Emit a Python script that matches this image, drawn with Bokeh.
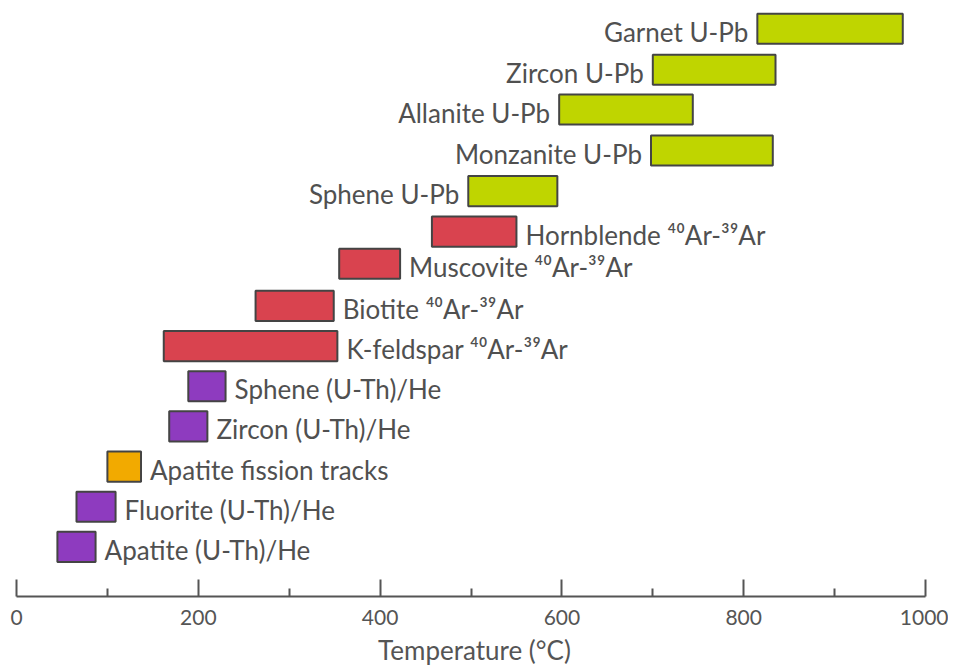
from bokeh.plotting import figure
from bokeh.models import Range1d, FixedTicker, ColumnDataSource
from bokeh.embed import file_html
from bokeh.resources import INLINE
from bokeh.core.properties import value

# ---- data ----
methods = [
    "Apatite (U-Th)/He", "Fluorite (U-Th)/He", "Apatite fission tracks",
    "Zircon (U-Th)/He", "Sphene (U-Th)/He", "K-feldspar \u2074\u2070Ar-\u00b3\u2079Ar",
    "Biotite \u2074\u2070Ar-\u00b3\u2079Ar", "Muscovite \u2074\u2070Ar-\u00b3\u2079Ar",
    "Hornblende \u2074\u2070Ar-\u00b3\u2079Ar", "Sphene U-Pb", "Monzanite U-Pb",
    "Allanite U-Pb", "Zircon U-Pb", "Garnet U-Pb",
]
t_low = [45, 66, 100, 168, 189, 162, 263, 355, 457, 497, 698, 597, 700, 815]
t_high = [87, 109, 137, 210, 230, 353, 349, 422, 550, 595, 832, 744, 835, 975]
row = [0, 1, 2, 3, 4, 5, 6, 7.05, 7.85, 8.86, 9.87, 10.89, 11.88, 12.9]
system = ["He", "He", "FT", "He", "He", "Ar", "Ar", "Ar", "Ar",
          "UPb", "UPb", "UPb", "UPb", "UPb"]
x_ticks = [0, 200, 400, 600, 800, 1000]
x_minor = [100, 300, 500, 700, 900]

palette = {"He": "#8e3bbf", "FT": "#f2aa00", "Ar": "#d9434f", "UPb": "#bfd500"}
colors = [palette[s] for s in system]

src = ColumnDataSource(dict(name=methods, lo=t_low, hi=t_high, row=row, color=colors))

left_idx = [i for i, s in enumerate(system) if s == "UPb"]
right_idx = [i for i, s in enumerate(system) if s != "UPb"]
src_left = ColumnDataSource(dict(x=[t_low[i] for i in left_idx],
                                 y=[row[i] for i in left_idx],
                                 t=[methods[i] for i in left_idx]))
src_right = ColumnDataSource(dict(x=[t_high[i] for i in right_idx],
                                  y=[row[i] for i in right_idx],
                                  t=[methods[i] for i in right_idx]))

FONT = "Lato"
TXT = "#505050"

p = figure(width=948, height=668,
           x_range=Range1d(-17.6, 1025.3), y_range=Range1d(-1.235, 13.605),
           output_backend="svg", toolbar_location=None, y_axis_location=None,
           min_border_left=0, min_border_right=0, min_border_top=0,
           min_border_bottom=67)
p.outline_line_color = None
p.xgrid.visible = False
p.ygrid.visible = False
p.background_fill_color = "white"

p.hbar(y="row", left="lo", right="hi", height=0.75, fill_color="color",
       line_color="#444444", line_width=2, source=src)

p.text(x="x", y="y", text="t", source=src_left, text_align="right",
       text_baseline="middle", x_offset=-9, y_offset=3,
       text_font=value(FONT), text_font_size="26px", text_color=TXT)
p.text(x="x", y="y", text="t", source=src_right, text_align="left",
       text_baseline="middle", x_offset=9, y_offset=3,
       text_font=value(FONT), text_font_size="26px", text_color=TXT)

ax = p.xaxis[0]
ax.ticker = FixedTicker(ticks=x_ticks, minor_ticks=x_minor)
ax.bounds = (0, 1000)
ax.axis_line_width = 2
ax.axis_line_color = "#555555"
ax.major_tick_line_color = "#555555"
ax.minor_tick_line_color = "#555555"
ax.major_tick_line_width = 2
ax.minor_tick_line_width = 2
ax.major_tick_in = 17
ax.major_tick_out = 0
ax.minor_tick_in = 8
ax.minor_tick_out = 0
ax.major_label_standoff = 13
ax.major_label_text_font = FONT
ax.major_label_text_font_size = "21px"
ax.major_label_text_color = "#555555"
ax.axis_label = "Temperature (\u00b0C)"
ax.axis_label_standoff = 6
ax.axis_label_text_font = FONT
ax.axis_label_text_font_size = "26px"
ax.axis_label_text_font_style = "normal"
ax.axis_label_text_color = "#555555"

open("out.html", "w").write(file_html(p, INLINE))
